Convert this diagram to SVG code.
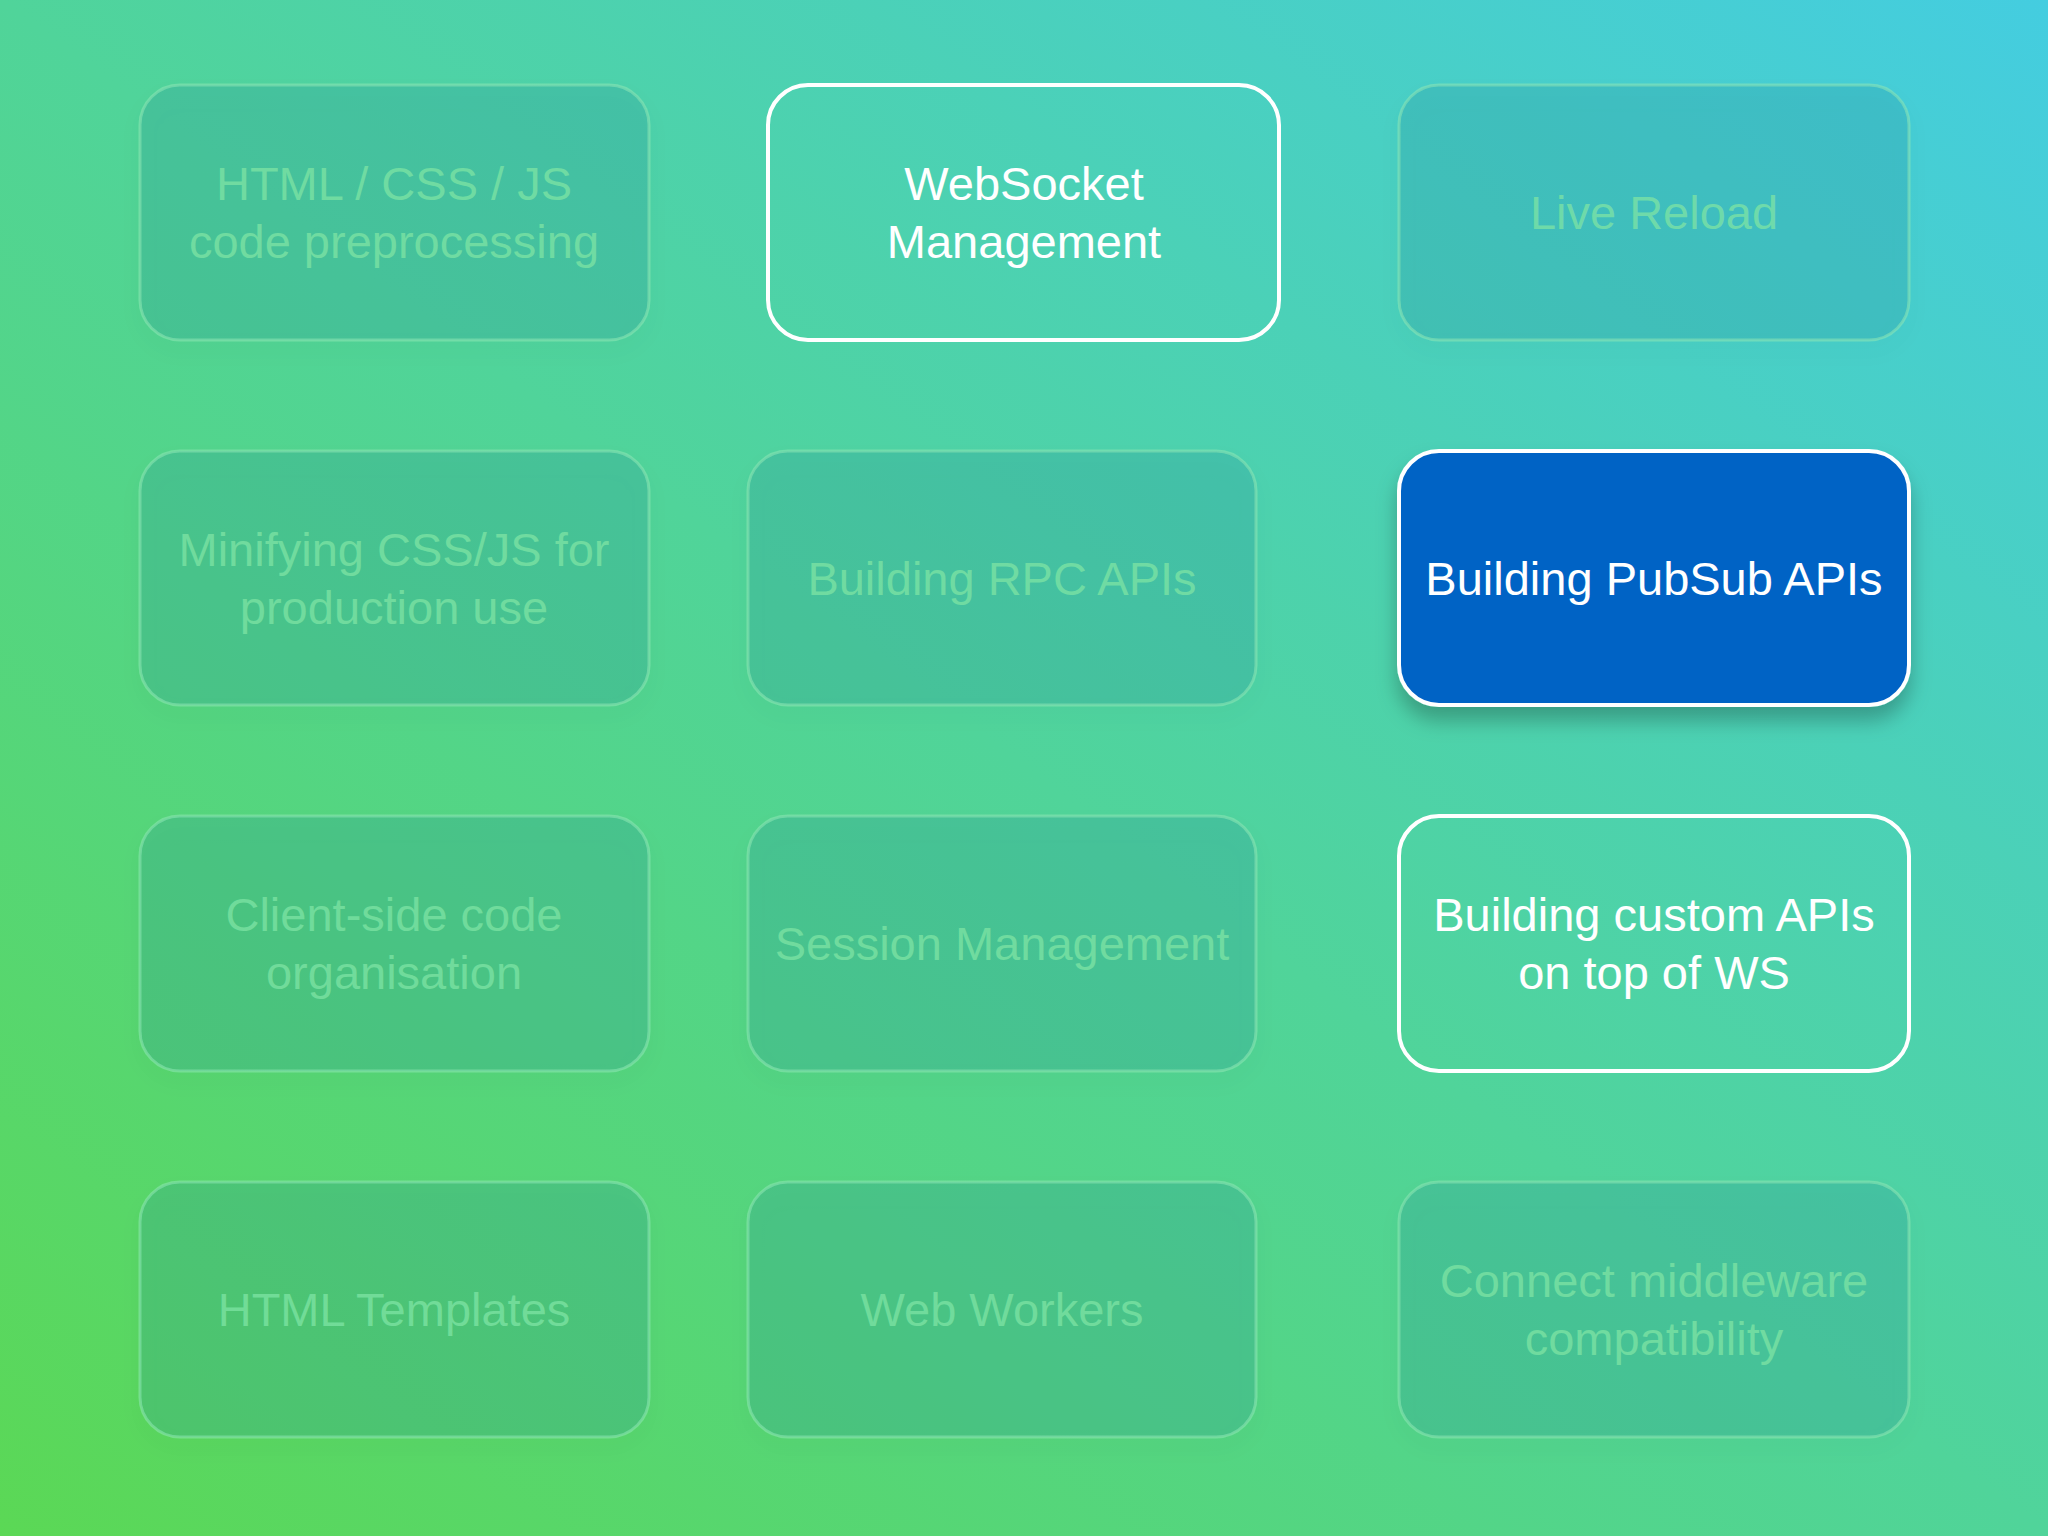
<svg xmlns="http://www.w3.org/2000/svg" width="2048" height="1536" viewBox="0 0 2048 1536">
<defs>
<linearGradient id="bg" x1="0" y1="1" x2="1" y2="0">
<stop offset="0" stop-color="#5bd855"/>
<stop offset="0.5" stop-color="#50d49a"/>
<stop offset="1" stop-color="#44cde0"/>
</linearGradient>
<filter id="sh" x="-20%" y="-20%" width="140%" height="150%"><feDropShadow dx="0" dy="14" stdDeviation="10" flood-color="#000" flood-opacity="0.25"/></filter>
<filter id="sh2" x="-20%" y="-20%" width="140%" height="150%"><feDropShadow dx="0" dy="10" stdDeviation="10" flood-color="#000" flood-opacity="0.08"/></filter>
<style>
.f{fill:#1f8a9a;fill-opacity:0.22;stroke:#8ee6b4;stroke-opacity:0.55;stroke-width:3;filter:url(#sh2)}
.w{fill:none;stroke:#fff;stroke-width:4}
.b{fill:#0563c5;stroke:#fff;stroke-width:4;filter:url(#sh)}
text{font-family:"Helvetica Neue","Liberation Sans",Arial,sans-serif;font-size:47px;text-anchor:middle}
.tf{fill:#7ee4a4;fill-opacity:0.75}
.tw{fill:#fff}
</style>
</defs>
<rect width="2048" height="1536" fill="url(#bg)"/>
<g id="n1"><rect class="f" x="140" y="85" width="509" height="255" rx="40"/><text class="tf" x="394" y="200">HTML / CSS / JS</text><text class="tf" x="394" y="258">code preprocessing</text></g>
<g id="n2"><rect class="w" x="768" y="85" width="511" height="255" rx="40"/><text class="tw" x="1024" y="200">WebSocket</text><text class="tw" x="1024" y="258">Management</text></g>
<g id="n3"><rect class="f" x="1399" y="85" width="510" height="255" rx="40"/><text class="tf" x="1654" y="229">Live Reload</text></g>
<g id="n4"><rect class="f" x="140" y="451" width="509" height="254" rx="40"/><text class="tf" x="394" y="566">Minifying CSS/JS for</text><text class="tf" x="394" y="624">production use</text></g>
<g id="n5"><rect class="f" x="748" y="451" width="508" height="254" rx="40"/><text class="tf" x="1002" y="595">Building RPC APIs</text></g>
<g id="n6"><rect class="b" x="1399" y="451" width="510" height="254" rx="40"/><text class="tw" x="1654" y="595">Building PubSub APIs</text></g>
<g id="n7"><rect class="f" x="140" y="816" width="509" height="255" rx="40"/><text class="tf" x="394" y="931">Client-side code</text><text class="tf" x="394" y="989">organisation</text></g>
<g id="n8"><rect class="f" x="748" y="816" width="508" height="255" rx="40"/><text class="tf" x="1002" y="960">Session Management</text></g>
<g id="n9"><rect class="w" x="1399" y="816" width="510" height="255" rx="40"/><text class="tw" x="1654" y="931">Building custom APIs</text><text class="tw" x="1654" y="989">on top of WS</text></g>
<g id="n10"><rect class="f" x="140" y="1182" width="509" height="255" rx="40"/><text class="tf" x="394" y="1326">HTML Templates</text></g>
<g id="n11"><rect class="f" x="748" y="1182" width="508" height="255" rx="40"/><text class="tf" x="1002" y="1326">Web Workers</text></g>
<g id="n12"><rect class="f" x="1399" y="1182" width="510" height="255" rx="40"/><text class="tf" x="1654" y="1297">Connect middleware</text><text class="tf" x="1654" y="1355">compatibility</text></g>
<g id="connectors"/>
</svg>
